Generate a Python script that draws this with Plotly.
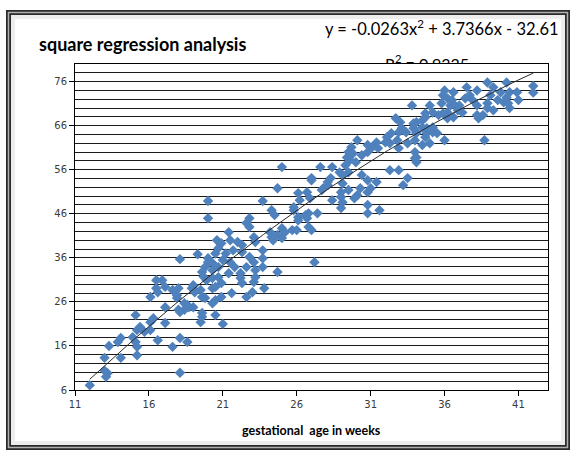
import numpy as np
import plotly.graph_objects as go

# ---- data ----
gest_age_weeks = [
    12.0, 13.1, 13.2, 13.0, 13.0, 14.1, 13.3, 13.9, 14.1, 15.2, 15.2, 15.1, 14.9, 15.2, 15.4, 15.1,
    15.7, 16.1, 16.1, 16.3, 16.1, 16.6, 16.5, 16.9, 16.5, 16.6, 17.1, 17.1, 17.1, 17.6, 17.6, 18.0,
    18.1, 18.1, 18.6, 18.1, 17.9, 18.0, 18.4, 18.6, 19.0, 19.3, 18.9, 19.1, 19.6, 19.5, 19.6, 19.7,
    19.9, 20.0, 20.3, 20.3, 19.6, 19.8,
    25.0, 27.0, 24.7, 20.0, 20.0, 23.7, 26.1, 26.7, 26.2, 24.3, 24.5, 25.8, 26.1, 26.8, 27.0, 22.8,
    22.6, 22.8, 24.2, 24.3, 25.0, 25.2, 25.0, 25.7, 26.0, 21.4, 21.5, 20.6, 20.9, 22.0, 22.3, 23.1,
    23.2, 23.7, 23.7, 20.7, 20.5, 21.2, 21.7, 22.3, 22.8, 23.1, 22.6, 23.2, 23.7, 20.0, 19.8, 20.3,
    20.7, 21.0, 21.5, 21.8, 22.2, 21.4, 20.7, 20.3, 20.9, 20.5, 22.2, 23.2, 23.1, 22.3, 23.8, 24.7,
    23.0, 22.6, 21.6, 20.9, 20.5, 20.3, 19.5, 19.1, 19.0, 17.9, 18.4, 18.7, 19.6, 20.5, 18.1, 27.2,
    24.7, 24.4, 21.0,
    33.8, 32.7, 33.0, 33.2, 34.1, 34.5, 34.7, 34.5, 34.8, 34.1, 34.0, 32.9, 32.4, 32.1, 32.0, 32.3,
    32.8, 32.9, 33.5, 34.0, 34.1, 34.1, 31.4, 31.5, 31.1, 30.8, 30.8, 30.1, 29.7, 29.5, 29.8, 30.4,
    29.4, 29.6, 30.0, 29.3, 28.9, 29.1, 29.5, 30.4, 30.8, 31.4, 31.0, 30.3, 30.1, 30.8, 30.8, 30.8,
    29.9, 29.5, 29.1, 29.0, 29.0, 29.1, 29.0, 28.4, 27.8, 28.1, 28.1, 28.3, 27.7, 27.6, 28.4, 27.0,
    26.9, 25.8, 27.4, 26.6, 26.7, 26.1, 26.8, 31.6, 32.3, 32.9, 33.5, 33.2,
    38.9, 40.2, 42.0, 42.0, 37.5, 38.2, 36.0, 39.3, 39.8, 40.4, 40.9, 41.0, 40.2, 40.0, 40.4, 40.3,
    39.6, 39.1, 38.9, 38.9, 39.3, 38.6, 38.3, 38.2, 37.9, 37.7, 37.4, 36.6, 36.2, 35.9, 35.8, 36.4,
    36.5, 36.7, 36.9, 37.0, 37.2, 36.2, 35.9, 36.2, 36.6, 35.6, 35.2, 35.0, 34.7, 33.9, 33.9, 34.1,
    34.8, 35.2, 35.2, 35.5, 34.7, 33.4, 33.1, 36.0, 35.0, 34.5, 38.7, 38.2, 34.0,
]
measurement = [
    7.1, 9.0, 9.8, 10.4, 13.3, 13.3, 16.0, 16.9, 17.8, 13.9, 15.8, 16.9, 18.0, 19.6, 20.3, 23.0,
    19.2, 19.6, 21.4, 22.3, 27.1, 17.3, 29.1, 30.9, 30.9, 28.2, 29.4, 24.8, 21.2, 15.8, 28.7, 29.1,
    17.8, 9.9, 16.9, 35.7, 26.9, 24.2, 24.2, 25.3, 24.8, 36.8, 29.1, 28.2, 22.6, 21.4, 32.8, 31.7,
    30.9, 35.9, 34.8, 29.1, 27.1, 26.9,
    56.6, 54.1, 51.8, 48.9, 45.0, 48.9, 50.7, 50.9, 49.1, 46.8, 45.7, 46.8, 45.2, 46.1, 42.3, 45.0,
    43.9, 43.0, 41.8, 40.7, 42.7, 41.8, 40.5, 42.3, 42.3, 41.8, 40.0, 40.0, 39.3, 39.6, 38.9, 40.7,
    39.6, 37.7, 35.9, 38.2, 37.0, 37.0, 37.7, 37.3, 36.2, 35.0, 33.9, 33.2, 33.9, 35.0, 33.9, 33.2,
    33.9, 35.5, 35.0, 33.9, 32.5, 32.5, 31.6, 31.4, 30.3, 29.4, 31.4, 31.6, 30.5, 30.3, 29.1, 32.8,
    28.2, 27.1, 28.0, 27.1, 26.4, 25.7, 28.7, 28.7, 29.8, 27.5, 25.7, 24.8, 23.5, 23.0, 23.7, 35.0,
    41.2, 40.0, 21.0,
    70.6, 67.7, 66.8, 65.0, 66.8, 67.2, 68.8, 65.6, 64.3, 64.3, 62.7, 64.5, 64.3, 63.4, 62.2, 62.0,
    62.7, 60.9, 62.0, 60.0, 58.8, 57.7, 62.2, 60.9, 61.1, 61.6, 60.0, 62.7, 61.1, 60.0, 59.7, 59.3,
    58.8, 58.2, 57.7, 57.0, 55.4, 54.8, 55.4, 54.8, 53.6, 53.2, 51.8, 51.8, 50.2, 50.9, 48.0, 46.1,
    49.5, 51.4, 52.9, 50.9, 49.8, 48.6, 47.3, 49.1, 51.8, 52.5, 53.2, 54.1, 51.4, 56.6, 56.6, 53.6,
    49.5, 47.5, 46.1, 45.7, 45.0, 44.5, 43.0, 46.8, 55.9, 55.9, 54.1, 52.5,
    75.8, 75.8, 75.0, 73.5, 74.7, 74.0, 74.0, 74.7, 73.6, 73.6, 73.6, 71.8, 72.4, 71.3, 70.0, 71.1,
    71.8, 72.9, 71.1, 70.0, 69.5, 68.4, 67.7, 70.6, 71.8, 72.9, 72.2, 73.6, 72.2, 72.9, 71.1, 70.6,
    71.8, 70.6, 69.5, 70.6, 69.0, 69.0, 68.8, 67.7, 67.9, 68.4, 69.0, 70.6, 67.9, 66.5, 65.4, 64.5,
    65.4, 65.6, 64.5, 64.3, 63.4, 64.5, 65.4, 62.7, 62.0, 61.6, 62.7, 68.4, 58.6,
]
trend_coef = [-0.0263, 3.7366, -32.61]      # quadratic trendline shown in the chart
title_text = "square regression analysis"
equation_text = "y = -0.0263x<sup>2</sup> + 3.7366x - 32.61"
r2_text = "R<sup>2</sup> = 0.9325"
x_title = "gestational  age in weeks"
x_ticks = [11, 16, 21, 26, 31, 36, 41]
y_ticks = [6, 16, 26, 36, 46, 56, 66, 76]

# ---- geometry helpers (pixel layout of a 571x450 image) ----
W, H = 571, 450
L, R, T, B = 75, 23, 30, 60          # margins
PX0, PX1 = L, W - R                  # plot x pixel range
PY_BOT = H - B                       # 390
PLOT_TOP = 64
area_h = H - T - B


def px2paper_x(px):
    return (px - PX0) / (PX1 - PX0)


def py2paper_y(py):
    return (PY_BOT - py) / area_h


main_top = py2paper_y(PLOT_TOP)

tx = np.linspace(min(gest_age_weeks), max(gest_age_weeks), 200)
ty = np.polyval(trend_coef, tx)

fig = go.Figure()
fig.add_trace(go.Scatter(
    x=gest_age_weeks, y=measurement, mode="markers",
    marker=dict(symbol="diamond", size=8, color="#4F81BD", line=dict(width=0)),
    showlegend=False, hoverinfo="x+y",
))
fig.add_trace(go.Scatter(
    x=tx, y=ty, mode="lines", line=dict(color="#2a2a2a", width=1),
    showlegend=False, hoverinfo="skip",
))
# R^2 label: lives in a thin strip just above the plot, clipped at the plot's top edge
strip_top = py2paper_y(40)
strip_px = PLOT_TOP - 40
fig.add_trace(go.Scatter(
    x=[px2paper_x(427)], y=[(PLOT_TOP - 66) / strip_px], mode="text",
    text=[r2_text], textposition="middle center", cliponaxis=True,
    textfont=dict(family="Lato, Carlito, sans-serif", size=16, color="#000000"),
    xaxis="x2", yaxis="y2", showlegend=False, hoverinfo="skip",
))

axis_font = dict(family="DejaVu Sans, sans-serif", size=10, color="#3a3a3a")
fig.update_layout(
    width=W, height=H,
    margin=dict(l=L, r=R, t=T, b=B),
    paper_bgcolor="white", plot_bgcolor="white",
    xaxis=dict(
        range=[11, 43], tickvals=x_ticks, ticks="outside", ticklen=5,
        tickcolor="#000", showline=True, linecolor="#000", linewidth=1,
        mirror=True, showgrid=False, zeroline=False, tickfont=axis_font,
        domain=[0, 1],
    ),
    yaxis=dict(
        range=[6, 80], tickvals=y_ticks, ticks="outside", ticklen=5,
        tickcolor="#000", showline=True, linecolor="#000", linewidth=1,
        mirror=True, showgrid=True, gridcolor="#1a1a1a", gridwidth=1,
        zeroline=False, tickfont=axis_font, domain=[0, main_top],
        minor=dict(tick0=6, dtick=2, showgrid=True, gridcolor="#1a1a1a", gridwidth=1),
    ),
    xaxis2=dict(range=[0, 1], domain=[0, 1], anchor="y2", visible=False, fixedrange=True),
    yaxis2=dict(range=[0, 1], domain=[main_top, strip_top], anchor="x2", visible=False,
                fixedrange=True),
)

fig.add_annotation(
    text=f"<b>{title_text}</b>", xref="paper", yref="paper",
    x=px2paper_x(37), y=py2paper_y(44), xanchor="left", yanchor="middle",
    showarrow=False, font=dict(family="Lato, Carlito, sans-serif", size=18, color="#000"),
)
fig.add_annotation(
    text=equation_text, xref="paper", yref="paper",
    x=px2paper_x(561), y=py2paper_y(28), xanchor="right", yanchor="middle",
    showarrow=False, font=dict(family="Lato, Carlito, sans-serif", size=16.5, color="#000"),
)
fig.add_annotation(
    text=f"<b>{x_title}</b>", xref="paper", yref="paper",
    x=0.5, y=py2paper_y(430), xanchor="center", yanchor="middle",
    showarrow=False, font=dict(family="Lato, Carlito, sans-serif", size=12.5, color="#000"),
)

# outer double frame
fx0, fx1 = px2paper_x(8.5), px2paper_x(567.5)
fy0, fy1 = py2paper_y(447.5), py2paper_y(12.5)
fig.add_shape(type="rect", xref="paper", yref="paper", x0=fx0, x1=fx1, y0=fy0, y1=fy1,
              line=dict(color="#2b2b2b", width=5), layer="above")
fig.add_shape(type="rect", xref="paper", yref="paper", x0=fx0, x1=fx1, y0=fy0, y1=fy1,
              line=dict(color="#b0b0b0", width=1.5), layer="above")
gx0, gx1 = px2paper_x(13), px2paper_x(563)
gy0, gy1 = py2paper_y(443), py2paper_y(17)
fig.add_shape(type="rect", xref="paper", yref="paper", x0=gx0, x1=gx1, y0=gy0, y1=gy1,
              line=dict(color="rgba(0,0,0,0.07)", width=4), layer="below")

fig.write_html(
    "out.html",
    config={"displayModeBar": False},
    post_script="document.body.style.margin='0';document.body.style.overflow='hidden';",
)
